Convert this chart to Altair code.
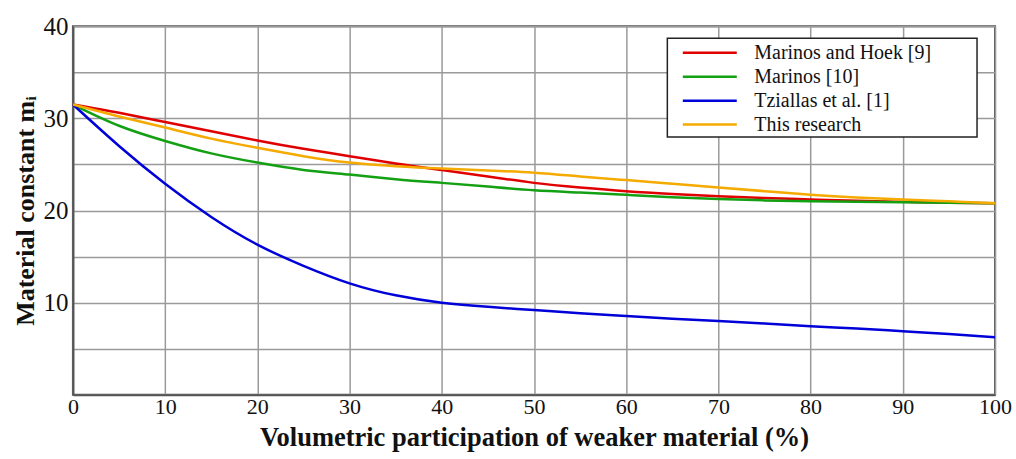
import altair as alt
import pandas as pd

x_vals = [0, 5, 10, 15, 20, 25, 30, 35, 40, 45, 50, 55, 60, 65, 70, 75, 80, 85, 90, 95, 100]

marinos_hoek = [31.5, 30.6, 29.6, 28.6, 27.6, 26.7, 25.9, 25.1, 24.4, 23.7, 23.0, 22.5, 22.1, 21.8,
                21.55, 21.35, 21.2, 21.05, 20.95, 20.85, 20.8]
marinos = [31.5, 29.2, 27.55, 26.2, 25.2, 24.4, 23.9, 23.4, 23.0, 22.6, 22.2, 21.95, 21.7, 21.45,
           21.25, 21.1, 21.0, 20.95, 20.9, 20.85, 20.8]
tziallas = [31.5, 27.0, 22.9, 19.3, 16.3, 14.0, 12.1, 10.8, 10.0, 9.55, 9.2, 8.85, 8.55, 8.25,
            8.0, 7.75, 7.45, 7.2, 6.9, 6.6, 6.25]
this_research = [31.5, 30.2, 29.0, 27.8, 26.8, 25.9, 25.2, 24.8, 24.55, 24.35, 24.1, 23.7, 23.3, 22.9,
                 22.5, 22.1, 21.7, 21.4, 21.2, 21.0, 20.8]

series_names = ["Marinos and Hoek [9]", "Marinos [10]", "Tziallas et al. [1]", "This research"]
series_colors = ["#e00000", "#13a013", "#0000d8", "#f5aa00"]

rows = []
for name, vals in zip(series_names, [marinos_hoek, marinos, tziallas, this_research]):
    for xv, yv in zip(x_vals, vals):
        rows.append({"x": xv, "y": yv, "series": name})
df = pd.DataFrame(rows)

FONT = "Liberation Serif"
axis_common = dict(ticks=False, labelFont=FONT, titleFont=FONT, labelColor="#111",
                   titleColor="#111", titleFontWeight="bold", gridColor="#9a9a9a",
                   gridWidth=1.5, domainColor="#555", domainWidth=2, labelFlush=False)

# legend frame (drawn behind the lines, wider than the automatic legend box)
frame = alt.Chart(pd.DataFrame({"k": [0]})).mark_rect(
    fill="white", stroke="#222", strokeWidth=1.5
).encode(
    x=alt.value(595), x2=alt.value(905), y=alt.value(12), y2=alt.value(111)
)

lines = alt.Chart(df).mark_line(strokeWidth=2.5, interpolate="natural").encode(
    x=alt.X("x:Q",
            scale=alt.Scale(domain=[0, 100], nice=False),
            axis=alt.Axis(title="Volumetric participation of weaker material (%)",
                          values=list(range(0, 101, 10)),
                          labelPadding=2, labelFontSize=22,
                          titleFontSize=26.5, titlePadding=7, **axis_common)),
    y=alt.Y("y:Q",
            scale=alt.Scale(domain=[0, 40], nice=False),
            axis=alt.Axis(title="Material constant mᵢ",
                          values=list(range(0, 41, 5)),
                          labelExpr="datum.value % 10 == 0 && datum.value > 0 ? datum.label : ''",
                          labelPadding=5, labelFontSize=25,
                          titleFontSize=26, titlePadding=4, **axis_common)),
    color=alt.Color("series:N",
                    scale=alt.Scale(domain=series_names, range=series_colors),
                    sort=series_names,
                    legend=alt.Legend(title=None, orient="none", legendX=595, legendY=12,
                                      symbolType="M-3,0H3", symbolSize=324,
                                      symbolStrokeWidth=2.5, symbolOffset=28,
                                      labelOffset=34, labelFontSize=20, labelFont=FONT,
                                      labelColor="#111", labelLimit=1000,
                                      rowPadding=3, padding=4)),
)

chart = alt.layer(frame, lines).properties(
    width=923, height=369,
    background="white",
    autosize=alt.AutoSizeParams(type="none"),
    padding={"left": 73, "top": 26, "right": 21, "bottom": 64},
).configure_view(
    stroke="#555", strokeWidth=2
)

chart.save("out.html", embed_options={"renderer": "svg", "actions": False})
